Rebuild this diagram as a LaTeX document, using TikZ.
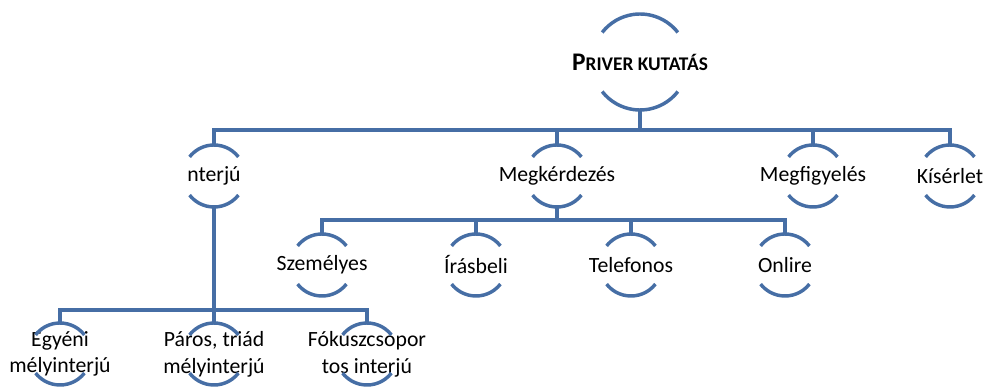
\documentclass[tikz,border=0pt]{standalone}
\usepackage{fontspec}
\setmainfont{Carlito}
\definecolor{hubc}{RGB}{70,110,165}
\newcommand\hubarcs[2]{%
  \draw[conn] ([shift={(38:#2)}]#1.center) arc[start angle=38,end angle=142,radius=#2];
  \draw[conn] ([shift={(-38:#2)}]#1.center) arc[start angle=-38,end angle=-142,radius=#2];}
\begin{document}
\begin{tikzpicture}[x=0.75pt,y=0.75pt,
  hub/.style={circle,minimum size=#1*0.75pt,inner sep=0pt,outer sep=0pt},
  lbl/.style={font=\fontsize{16.3}{20}\selectfont,align=center,text=black,inner sep=0pt},
  conn/.style={draw=hubc,line width=2.6pt}]
\useasboundingbox (0,0) rectangle (984,388);
% level 0
\node[hub=96,label={[lbl]center:{\bfseries\fontsize{19}{20}\selectfont P\fontsize{14.5}{15}\selectfont RIVER KUTATÁS}}] (P) at (640,326) {};
% level 1
\node[hub=62,label={[lbl]center:nterjú}] (I) at (214,212) {};
\node[hub=62,label={[lbl]center:Megkérdezés}] (M) at (557,212) {};
\node[hub=62,label={[lbl]center:Megfigyelés}] (F) at (813,212) {};
\node[hub=62,label={[lbl]center:Kísérlet}] (K) at (950,212) {};
% level 2
\node[hub=62,label={[lbl]center:Személyes}] (S) at (322,123) {};
\node[hub=62,label={[lbl]center:Írásbeli}] (Ir) at (476,123) {};
\node[hub=62,label={[lbl]center:Telefonos}] (T) at (631,123) {};
\node[hub=62,label={[lbl]center:Onlire}] (O) at (785,123) {};
% level 3
\node[hub=62,label={[lbl]center:{Egyéni\\mélyinterjú}}] (E) at (60,34) {};
\node[hub=62,label={[lbl]center:{Páros, triád\\mélyinterjú}}] (Pa) at (214,34) {};
\node[hub=62,label={[lbl]center:{Fókuszcsopor\\tos interjú}}] (Fo) at (367,34) {};
% arcs
\hubarcs{P}{48}
\foreach \n in {I,M,F,K,S,Ir,T,O,E,Pa,Fo}{\hubarcs{\n}{31}}
% bus coordinates
\coordinate (b1) at (0,258);
\coordinate (b2) at (0,168);
\coordinate (b3) at (0,78);
% connectors
\draw[conn] (P.south) -- (P.south |- b1);
\draw[conn] (I.north) -- (I.north |- b1) -- (K.north |- b1) -- (K.north);
\draw[conn] (M.north) -- (M.north |- b1);
\draw[conn] (F.north) -- (F.north |- b1);
\draw[conn] (M.south) -- (M.south |- b2);
\draw[conn] (S.north) -- (S.north |- b2) -- (O.north |- b2) -- (O.north);
\draw[conn] (Ir.north) -- (Ir.north |- b2);
\draw[conn] (T.north) -- (T.north |- b2);
\draw[conn] (I.south) -- (I.south |- b3);
\draw[conn] (E.north) -- (E.north |- b3) -- (Fo.north |- b3) -- (Fo.north);
\draw[conn] (Pa.north) -- (Pa.north |- b3);
\end{tikzpicture}
\end{document}
